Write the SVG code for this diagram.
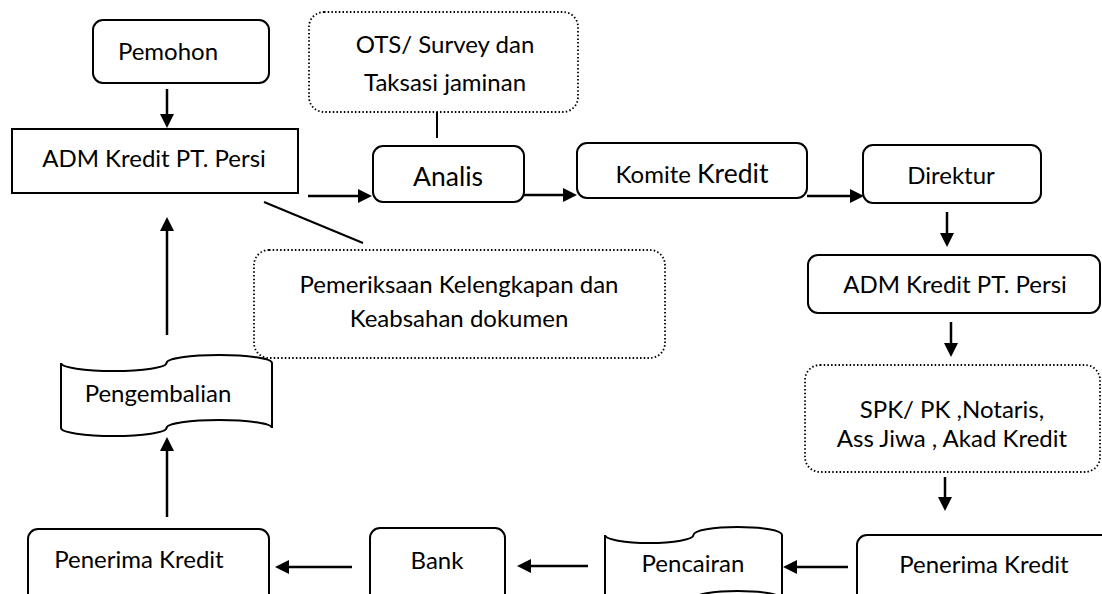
<svg xmlns="http://www.w3.org/2000/svg" width="1102" height="594" viewBox="0 0 1102 594">
<style>
.box{fill:#fff;stroke:#000;stroke-width:2}
.dot{fill:#fff;stroke:#000;stroke-width:1.8;stroke-dasharray:1.5 2.2}
.t{font-family:Lato,"Noto Sans",sans-serif;font-size:24px;fill:#000;text-anchor:middle}
.big{font-size:26.5px}
.c{fill:none;stroke:#000;stroke-width:2.5}
.l{fill:none;stroke:#000;stroke-width:2}
</style>
<defs>
<marker id="ah" viewBox="0 0 14 14" refX="2" refY="7" markerWidth="14" markerHeight="14" orient="auto" markerUnits="userSpaceOnUse">
<path d="M0,0 L14,7 L0,14 z" fill="#000"/>
</marker>
</defs>
<g id="connectors">
<path class="c" d="M167,89 V116" marker-end="url(#ah)"/>
<path class="c" d="M308,196 H360" marker-end="url(#ah)"/>
<path class="l" d="M437,112 V138"/>
<path class="c" d="M524,195 H565" marker-end="url(#ah)"/>
<path class="c" d="M807,196 H852" marker-end="url(#ah)"/>
<path class="c" d="M947,212 V235" marker-end="url(#ah)"/>
<path class="c" d="M951,322 V345" marker-end="url(#ah)"/>
<path class="c" d="M945,477 V499" marker-end="url(#ah)"/>
<path class="c" d="M848,567 H795" marker-end="url(#ah)"/>
<path class="c" d="M588,566 H529" marker-end="url(#ah)"/>
<path class="c" d="M352,567 H287" marker-end="url(#ah)"/>
<path class="c" d="M167,517 V449" marker-end="url(#ah)"/>
<path class="c" d="M167,335 V229" marker-end="url(#ah)"/>
<path class="l" d="M264,202 L363,243"/>
</g>
<g id="pemohon">
<rect class="box" x="93" y="20" width="176" height="63" rx="10"/>
<text class="t" x="168" y="60">Pemohon</text>
</g>
<g id="adm1">
<rect class="box" x="12" y="129" width="286" height="64"/>
<text class="t" x="154" y="167">ADM Kredit PT. Persi</text>
</g>
<g id="ots">
<rect class="dot" x="309" y="12" width="269" height="100" rx="15"/>
<text class="t" x="445" y="53">OTS/ Survey dan</text>
<text class="t" x="445" y="91">Taksasi jaminan</text>
</g>
<g id="analis">
<rect class="box" x="373" y="146" width="151" height="56" rx="10"/>
<text class="t big" x="448" y="186">Analis</text>
</g>
<g id="komite">
<rect class="box" x="577" y="143" width="230" height="55" rx="10"/>
<text class="t" x="692" y="183">Komite <tspan class="big">Kredit</tspan></text>
</g>
<g id="direktur">
<rect class="box" x="863" y="145" width="178" height="58" rx="10"/>
<text class="t" x="951" y="184">Direktur</text>
</g>
<g id="adm2">
<rect class="box" x="808" y="255" width="292" height="58" rx="10"/>
<text class="t" x="955" y="293">ADM Kredit PT. Persi</text>
</g>
<g id="spk">
<rect class="dot" x="805" y="365" width="295" height="107" rx="15"/>
<text class="t" x="952" y="418">SPK/ PK ,Notaris,</text>
<text class="t" x="952" y="447">Ass Jiwa , Akad Kredit</text>
</g>
<g id="pemeriksaan">
<rect class="dot" x="254" y="250" width="411" height="108" rx="15"/>
<text class="t" x="459" y="293">Pemeriksaan Kelengkapan dan</text>
<text class="t" x="459" y="327">Keabsahan dokumen</text>
</g>
<g id="pengembalian">
<path class="box" d="M61,363 A52.75,8.1 0 0 0 166.5,363 A52.75,8.1 0 0 1 272,363 L272,428 A52.75,8.1 0 0 0 166.5,428 A52.75,8.1 0 0 1 61,428 Z"/>
<text class="t" x="158" y="402">Pengembalian</text>
</g>
<g id="penerima2">
<rect class="box" x="857" y="535" width="260" height="80" rx="10"/>
<text class="t" x="984" y="573">Penerima Kredit</text>
</g>
<g id="pencairan">
<path class="box" d="M605,535 A44.25,8 0 0 0 693.5,535 A44.25,8 0 0 1 782,535 L782,599 A44.25,8 0 0 0 693.5,599 A44.25,8 0 0 1 605,599 Z"/>
<text class="t" x="693" y="572">Pencairan</text>
</g>
<g id="bank">
<rect class="box" x="370" y="528" width="135" height="80" rx="10"/>
<text class="t" x="437" y="569">Bank</text>
</g>
<g id="penerima1">
<rect class="box" x="28" y="529" width="241" height="80" rx="10"/>
<text class="t" x="139" y="568">Penerima Kredit</text>
</g>
</svg>
